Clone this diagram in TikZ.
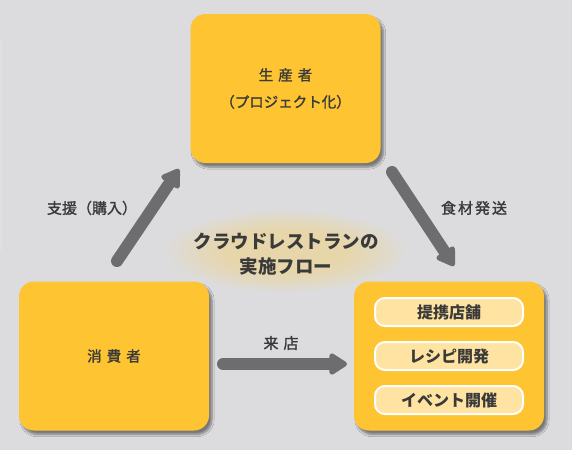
\documentclass[tikz,border=0pt]{standalone}
\usepackage{fontspec}
\setmainfont{Noto Sans CJK JP}
\newfontfamily\medfont[FakeBold=1.6]{Noto Sans CJK JP}
\usetikzlibrary{arrows.meta,shadows.blur}
\definecolor{bgcol}{HTML}{DCDCDE}
\definecolor{boxcol}{HTML}{FEC431}
\definecolor{pillcol}{HTML}{FFE3A2}
\definecolor{arrcol}{HTML}{6D6D6F}
\definecolor{txtcol}{HTML}{3A3A3A}
\definecolor{glowcol}{HTML}{E7D6AA}
\pgfdeclareradialshading{glow}{\pgfpoint{0bp}{0bp}}
  {color(0bp)=(glowcol); color(12bp)=(glowcol); color(18bp)=(glowcol!60!bgcol); color(25bp)=(bgcol); color(50bp)=(bgcol)}
\begin{document}
\begin{tikzpicture}
[x=1pt,y=-1pt,
 box/.style={rectangle,rounded corners=15pt,fill=boxcol,minimum width=190pt,
   minimum height=149pt,text=txtcol,font=\fontsize{14.5}{27}\selectfont\medfont,align=center,
   blur shadow={shadow xshift=3pt,shadow yshift=-4pt,shadow blur steps=6,shadow opacity=45}},
 pill/.style={rectangle,rounded corners=10pt,fill=pillcol,draw=white,line width=2pt,
   minimum width=148pt,minimum height=28pt,text=txtcol,font=\fontsize{16}{18}\selectfont\bfseries},
 lbl/.style={text=txtcol,font=\fontsize{15}{18}\selectfont\medfont},
 flow/.style={draw=arrcol,line width=12pt,line cap=round,
   -{Triangle[width=24pt,length=20pt,round=false]}}]
\useasboundingbox (0,0) rectangle (572,450);
\fill[bgcol] (0,0) rectangle (572,450);
% faint edge of a panel on the left
\fill[black!12] (0,40) rectangle (1.5,250);
% glow behind the title
\shade[shading=glow] (286,251) ellipse (122 and 42);
\node [text=txtcol,align=center,font=\fontsize{18.5}{25}\selectfont\bfseries] (title)
  at (286,254) {クラウドレストランの\\実施フロー};
% three parties
\node [box] (maker) at (285.5,88.5) {生\hspace{5pt}産\hspace{5pt}者\\（プロジェクト化）};
\node [box] (user) at (114,356) {消\hspace{5pt}費\hspace{5pt}者};
\node [box] (shop) at (449,356) {};
\node [pill] (shop1) at (449,312) {提携店舗};
\node [pill] (shop2) at (449,356) {レシピ開発};
\node [pill] (shop3) at (449,400) {イベント開催};
% arrow ends
\coordinate (buyA) at (117,261);
\coordinate (buyB) at (179,169);
\coordinate (sendA) at (392,172);
\coordinate (sendB) at (454,266);
\coordinate (visitA) at (223,364);
\coordinate (visitB) at (347,364);
\draw [flow] (buyA) -- (buyB);
\draw [flow] (sendA) -- (sendB);
\draw [flow] (visitA) -- (visitB);
\node [lbl] (buy) at (92,208) {支援（購入）};
\node [lbl] (send) at (474,208) {食\hspace{2pt}材\hspace{2pt}発\hspace{2pt}送};
\node [lbl] (visit) at (281,343) {来\hspace{5pt}店};
\end{tikzpicture}
\end{document}
